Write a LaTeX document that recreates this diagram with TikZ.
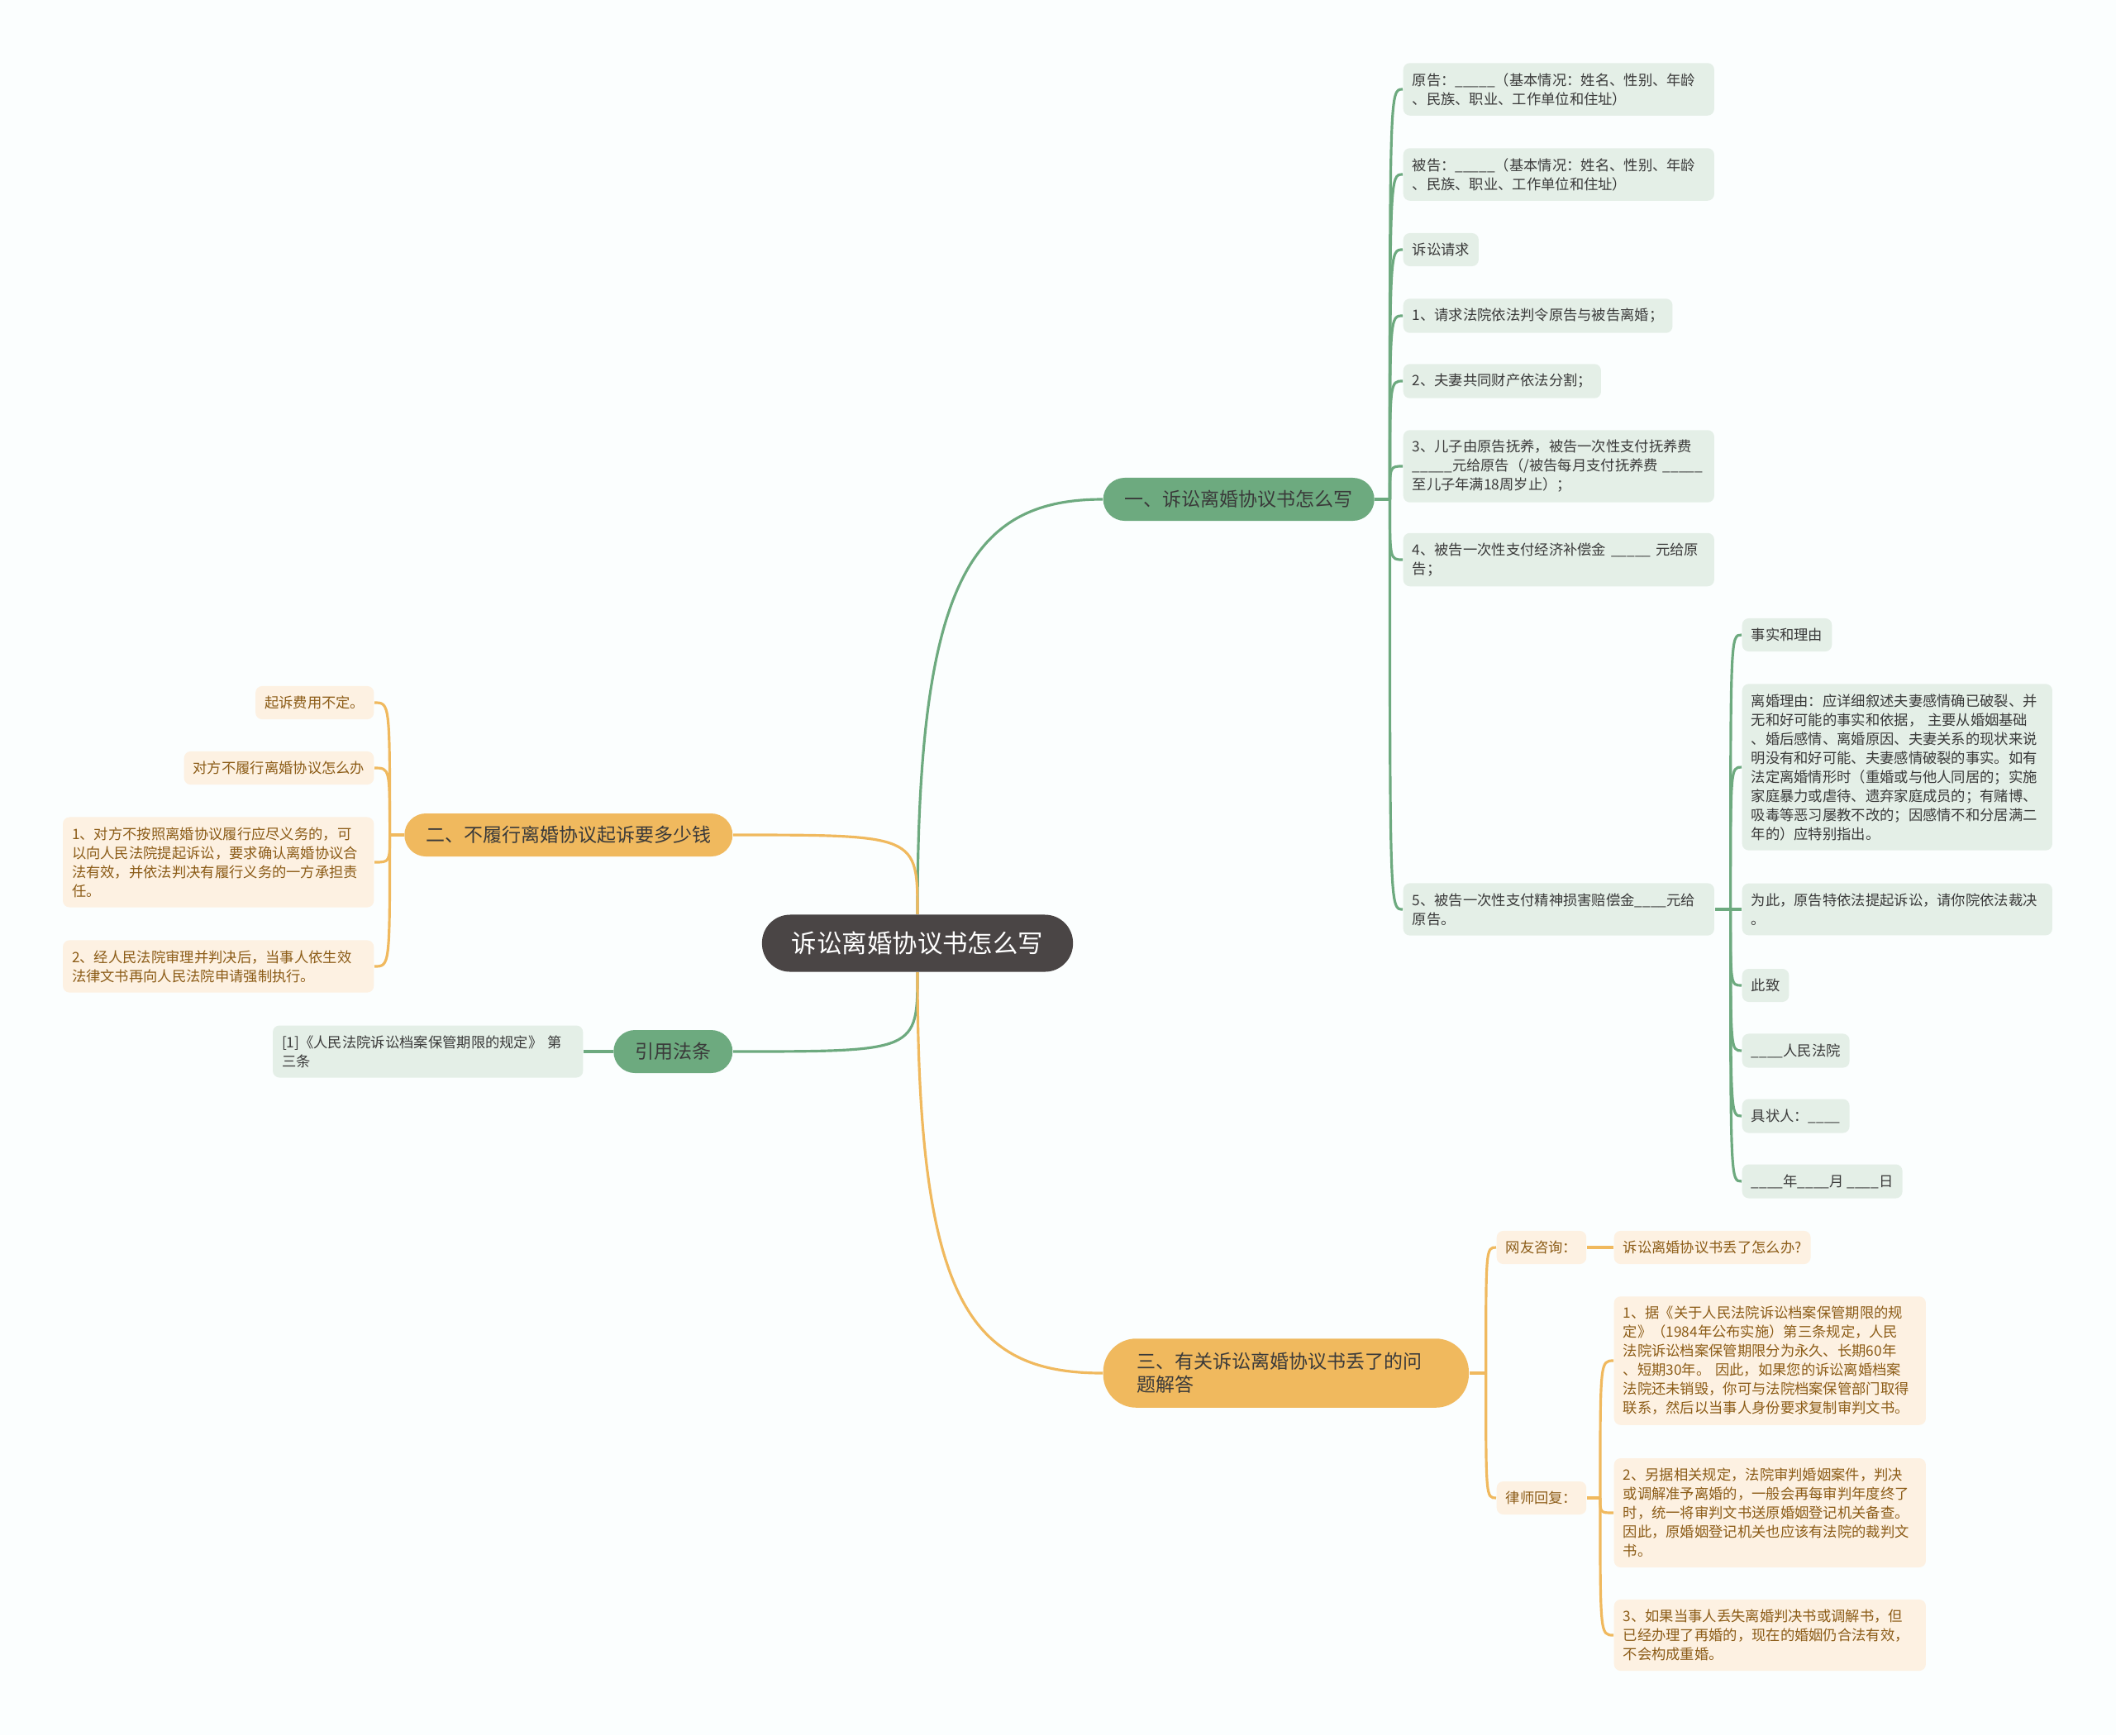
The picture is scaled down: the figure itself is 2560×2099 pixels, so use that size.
\documentclass[tikz,border=0pt]{standalone}
\usepackage{fontspec}
\setmainfont{Noto Sans CJK SC}
\definecolor{bg}{HTML}{FBFEFE}
\definecolor{rootfill}{HTML}{4A4545}
\definecolor{gmain}{HTML}{6DAA7F}
\definecolor{glite}{HTML}{E4EFE7}
\definecolor{gtext}{HTML}{3A3A3A}
\definecolor{omain}{HTML}{F0B95E}
\definecolor{olite}{HTML}{FDF1E2}
\definecolor{otext}{HTML}{8C5C17}
\begin{document}
\begin{tikzpicture}[x=0.01cm,y=-0.01cm,
  hub/.style={fill=rootfill,text=white,rounded corners=0.34cm,inner xsep=0.36cm,
    minimum height=0.69cm,font=\fontsize{8.65pt}{10pt}\selectfont},
  gtopic/.style={fill=gmain,text=gtext,rounded corners=0.26cm,inner xsep=0.26cm,
    minimum height=0.52cm,font=\fontsize{6.54pt}{8pt}\selectfont},
  otopic/.style={gtopic,fill=omain},
  leaf/.style={rounded corners=0.08cm,inner xsep=0.11cm,inner ysep=0.12cm,
    minimum height=0.40cm,align=left,font=\fontsize{4.92pt}{6.54pt}\selectfont},
  gleaf/.style={leaf,fill=glite,text=gtext},
  oleaf/.style={leaf,fill=olite,text=otext},
  glink/.style={draw=gmain,line width=0.9pt},
  olink/.style={draw=omain,line width=0.9pt}]
  \path[use as bounding box,fill=bg] (0,0) rectangle (2560,2099);
  % centre and the four topics
  \node[hub] (root) at (1110,1141) {诉讼离婚协议书怎么写};
  \node[gtopic,anchor=west] (m1) at (1334,604) {一、诉讼离婚协议书怎么写};
  \node[otopic,anchor=east] (m2) at (887,1010) {二、不履行离婚协议起诉要多少钱};
  \node[gtopic,anchor=east] (law0) at (887,1272) {引用法条};
  \node[otopic,anchor=west,align=left,text width=3.6cm,inner xsep=0.41cm,
    inner ysep=0.17cm,rounded corners=0.4cm] (m3) at (1334,1661)
    {三、有关诉讼离婚协议书丢了的问\\题解答};
  \draw[glink] (root.north) .. controls +(0,-400) and +(-160,0) .. (m1.west);
  \draw[olink] (root.north) .. controls (root.north |- m2.east) .. (m2.east);
  \draw[glink] (root.south) .. controls (root.south |- law0.east) .. (law0.east);
  \draw[olink] (root.south) .. controls +(0,400) and +(-160,0) .. (m3.west);
  % how to write it
  \node[gleaf,anchor=west,text width=3.54cm] (c1) at (1697,108) {原告：\_\_\_\_\_（基本情况：姓名、性别、年龄\\、民族、职业、工作单位和住址）};
  \node[gleaf,anchor=west,text width=3.54cm] (c2) at (1697,211) {被告：\_\_\_\_\_（基本情况：姓名、性别、年龄\\、民族、职业、工作单位和住址）};
  \node[gleaf,anchor=west] (c3) at (1697,302) {诉讼请求};
  \node[gleaf,anchor=west] (c4) at (1697,382) {1、请求法院依法判令原告与被告离婚；};
  \node[gleaf,anchor=west] (c5) at (1697,461) {2、夫妻共同财产依法分割；};
  \node[gleaf,anchor=west,text width=3.54cm] (c6) at (1697,564) {3、儿子由原告抚养，被告一次性支付抚养费\\\_\_\_\_\_元给原告（/被告每月支付抚养费 \_\_\_\_\_\\至儿子年满18周岁止）；};
  \node[gleaf,anchor=west,text width=3.54cm] (c7) at (1697,677) {4、被告一次性支付经济补偿金 \_\_\_\_\_ 元给原\\告；};
  \node[gleaf,anchor=west,text width=3.54cm] (c8) at (1697,1100) {5、被告一次性支付精神损害赔偿金\_\_\_\_元给\\原告。};
  \draw[glink] (m1.east) -- +(18,0) coordinate (j1);
  \foreach \c in {c1,c2,c3,c4,c5,c6,c7,c8}
    \draw[glink] (j1) .. controls (j1 |- \c.west) .. (\c.west);
  % the facts and the closing lines
  \node[gleaf,anchor=west] (g1) at (2107,768) {事实和理由};
  \node[gleaf,anchor=west,text width=3.53cm] (g2) at (2107,928) {离婚理由：应详细叙述夫妻感情确已破裂、并\\无和好可能的事实和依据， 主要从婚姻基础\\、婚后感情、离婚原因、夫妻关系的现状来说\\明没有和好可能、夫妻感情破裂的事实。如有\\法定离婚情形时（重婚或与他人同居的；实施\\家庭暴力或虐待、遗弃家庭成员的；有赌博、\\吸毒等恶习屡教不改的；因感情不和分居满二\\年的）应特别指出。};
  \node[gleaf,anchor=west,text width=3.53cm] (g3) at (2107,1100) {为此，原告特依法提起诉讼，请你院依法裁决\\。};
  \node[gleaf,anchor=west] (g4) at (2107,1192) {此致};
  \node[gleaf,anchor=west] (g5) at (2107,1271) {\_\_\_\_人民法院};
  \node[gleaf,anchor=west] (g6) at (2107,1350) {具状人：\_\_\_\_};
  \node[gleaf,anchor=west] (g7) at (2107,1429) {\_\_\_\_年\_\_\_\_月 \_\_\_\_日};
  \draw[glink] (c8.east) -- +(19,0) coordinate (j5);
  \foreach \g in {g1,g2,g3,g4,g5,g6,g7}
    \draw[glink] (j5) .. controls (j5 |- \g.west) .. (\g.west);
  % not keeping the agreement
  \node[oleaf,anchor=east] (o1) at (453,850) {起诉费用不定。};
  \node[oleaf,anchor=east] (o2) at (453,929) {对方不履行离婚协议怎么办};
  \node[oleaf,anchor=east,text width=3.54cm] (o3) at (453,1043) {1、对方不按照离婚协议履行应尽义务的，可\\以向人民法院提起诉讼，要求确认离婚协议合\\法有效，并依法判决有履行义务的一方承担责\\任。};
  \node[oleaf,anchor=east,text width=3.54cm] (o4) at (453,1169) {2、经人民法院审理并判决后，当事人依生效\\法律文书再向人民法院申请强制执行。};
  \draw[olink] (m2.west) -- +(-17,0) coordinate (j2);
  \foreach \o in {o1,o2,o3,o4}
    \draw[olink] (j2) .. controls (j2 |- \o.east) .. (\o.east);
  % the cited rule
  \node[gleaf,anchor=east,text width=3.53cm] (law1) at (706,1272) {[1]《人民法院诉讼档案保管期限的规定》 第\\三条};
  \draw[glink] (law0.west) -- (law1.east);
  % the lost document
  \node[oleaf,anchor=west] (q1) at (1810,1509) {网友咨询：};
  \node[oleaf,anchor=west] (q2) at (1952,1509) {诉讼离婚协议书丢了怎么办?};
  \node[oleaf,anchor=west] (a0) at (1810,1812) {律师回复：};
  \node[oleaf,anchor=west,text width=3.55cm] (a1) at (1952,1646) {1、据《关于人民法院诉讼档案保管期限的规\\定》（1984年公布实施）第三条规定，人民\\法院诉讼档案保管期限分为永久、长期60年\\、短期30年。 因此，如果您的诉讼离婚档案\\法院还未销毁，你可与法院档案保管部门取得\\联系，然后以当事人身份要求复制审判文书。};
  \node[oleaf,anchor=west,text width=3.55cm] (a2) at (1952,1830) {2、另据相关规定，法院审判婚姻案件，判决\\或调解准予离婚的，一般会再每审判年度终了\\时，统一将审判文书送原婚姻登记机关备查。\\因此，原婚姻登记机关也应该有法院的裁判文\\书。};
  \node[oleaf,anchor=west,text width=3.55cm] (a3) at (1952,1978) {3、如果当事人丢失离婚判决书或调解书，但\\已经办理了再婚的，现在的婚姻仍合法有效，\\不会构成重婚。};
  \draw[olink] (m3.east) -- +(20,0) coordinate (j3);
  \draw[olink] (j3) .. controls (j3 |- q1.west) .. (q1.west);
  \draw[olink] (j3) .. controls (j3 |- a0.west) .. (a0.west);
  \draw[olink] (q1.east) -- (q2.west);
  \draw[olink] (a0.east) -- +(16,0) coordinate (j4);
  \foreach \a in {a1,a2,a3}
    \draw[olink] (j4) .. controls (j4 |- \a.west) .. (\a.west);
\end{tikzpicture}
\end{document}
